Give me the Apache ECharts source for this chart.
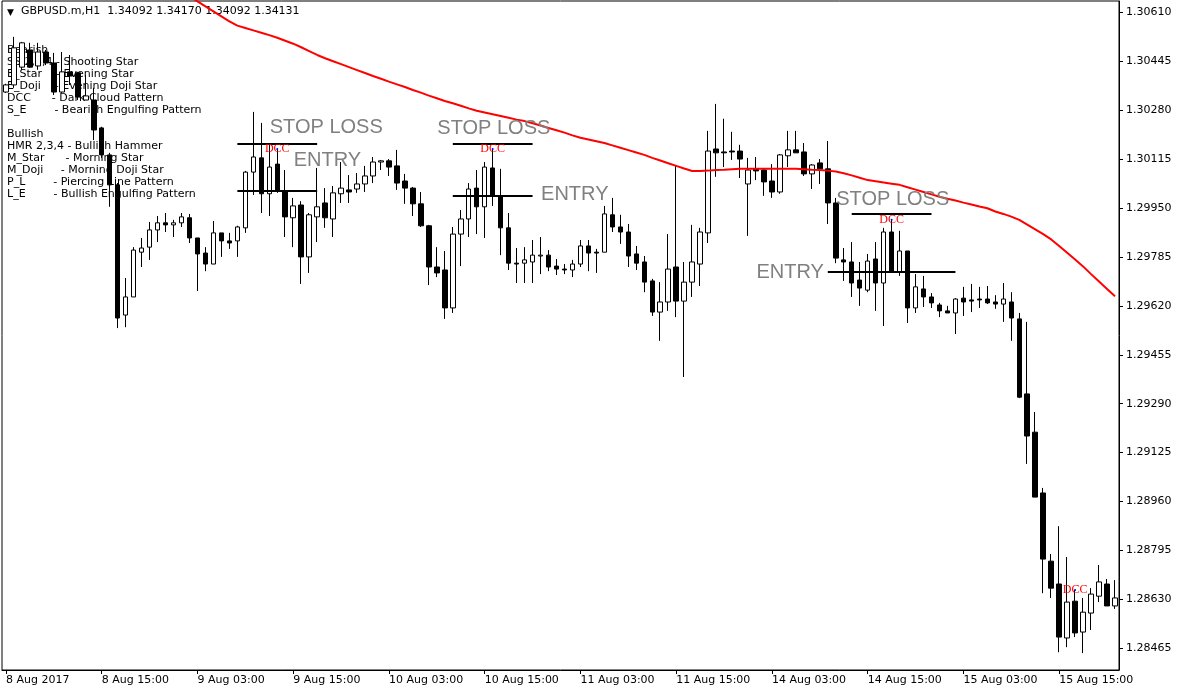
<!DOCTYPE html>
<html>
<head>
<meta charset="utf-8">
<title>GBPUSD.m,H1</title>
<script src="https://cdn.jsdelivr.net/npm/echarts@6/dist/echarts.min.js"></script>
<style>
  html, body { margin: 0; padding: 0; background: #fff; }
  #chart { width: 1180px; height: 693px; }
</style>
</head>
<body>
<div id="chart"></div>
<script>
// hourly bars, 8 Aug 03:00 .. 15 Aug 22:00
var opens = [
  1.30341, 1.30365, 1.30425, 1.30483, 1.30429, 1.30476, 1.30439, 1.30341, 1.30409, 1.30406,
  1.30314, 1.30314, 1.30220, 1.30129, 1.30028, 1.29589, 1.29650, 1.29801, 1.29818, 1.29876,
  1.29900, 1.29893, 1.29900, 1.29917, 1.29849, 1.29798, 1.29761, 1.29866, 1.29839, 1.29839,
  1.29883, 1.30071, 1.30119, 1.29998, 1.30098, 1.30007, 1.29917, 1.29960, 1.29785, 1.29920,
  1.29967, 1.29913, 1.29998, 1.30011, 1.30014, 1.30031, 1.30058, 1.30105, 1.30109, 1.30092,
  1.30041, 1.30017, 1.29964, 1.29890, 1.29751, 1.29741, 1.29613, 1.29862, 1.29913, 1.30017,
  1.29954, 1.30085, 1.29991, 1.29883, 1.29764, 1.29764, 1.29768, 1.29788, 1.29791, 1.29754,
  1.29744, 1.29741, 1.29761, 1.29822, 1.29801, 1.29801, 1.29927, 1.29886, 1.29869, 1.29795,
  1.29768, 1.29704, 1.29599, 1.29633, 1.29751, 1.29636, 1.29700, 1.29761, 1.29866, 1.30149,
  1.30139, 1.30142, 1.30142, 1.30031, 1.30082, 1.30078, 1.30041, 1.30004, 1.30126, 1.30146,
  1.30139, 1.30065, 1.30102, 1.30082, 1.29967, 1.29775, 1.29768, 1.29707, 1.29673, 1.29778,
  1.29697, 1.29869, 1.29734, 1.29805, 1.29613, 1.29677, 1.29650, 1.29623, 1.29603, 1.29596,
  1.29646, 1.29640, 1.29643, 1.29643, 1.29633, 1.29626, 1.29633, 1.29576, 1.29323, 1.29194,
  1.28989, 1.28759, 1.28682, 1.28500, 1.28624, 1.28520, 1.28584, 1.28641, 1.28682, 1.28608
];
var highs = [
  1.30369, 1.30527, 1.30510, 1.30507, 1.30507, 1.30483, 1.30473, 1.30476, 1.30466, 1.30409,
  1.30399, 1.30355, 1.30224, 1.30136, 1.30034, 1.29714, 1.29818, 1.29849, 1.29903, 1.29923,
  1.29933, 1.29910, 1.29933, 1.29930, 1.29849, 1.29818, 1.29906, 1.29866, 1.29866, 1.29890,
  1.30075, 1.30274, 1.30237, 1.30169, 1.30149, 1.30078, 1.29984, 1.29973, 1.29933, 1.30085,
  1.30017, 1.30024, 1.30105, 1.30061, 1.30068, 1.30092, 1.30122, 1.30112, 1.30115, 1.30146,
  1.30065, 1.30021, 1.30004, 1.29893, 1.29818, 1.29805, 1.29886, 1.29943, 1.30034, 1.30078,
  1.30105, 1.30149, 1.30082, 1.29933, 1.29815, 1.29818, 1.29842, 1.29852, 1.29808, 1.29778,
  1.29761, 1.29775, 1.29842, 1.29842, 1.29812, 1.29957, 1.29984, 1.29927, 1.29896, 1.29822,
  1.29788, 1.29711, 1.29700, 1.29862, 1.30092, 1.29768, 1.29893, 1.29883, 1.30210, 1.30301,
  1.30251, 1.30207, 1.30163, 1.30119, 1.30122, 1.30082, 1.30098, 1.30132, 1.30210, 1.30210,
  1.30169, 1.30098, 1.30115, 1.30176, 1.29984, 1.29815, 1.29835, 1.29768, 1.29795, 1.29835,
  1.29883, 1.29910, 1.29873, 1.29805, 1.29727, 1.29721, 1.29663, 1.29630, 1.29620, 1.29646,
  1.29684, 1.29694, 1.29684, 1.29687, 1.29656, 1.29697, 1.29666, 1.29596, 1.29566, 1.29262,
  1.29006, 1.28783, 1.28877, 1.28773, 1.28662, 1.28635, 1.28668, 1.28746, 1.28699, 1.28695
];
var lows = [
  1.30338, 1.30355, 1.30416, 1.30422, 1.30416, 1.30432, 1.30331, 1.30338, 1.30365, 1.30314,
  1.30314, 1.30179, 1.30119, 1.29954, 1.29545, 1.29548, 1.29650, 1.29751, 1.29775, 1.29835,
  1.29869, 1.29852, 1.29886, 1.29832, 1.29670, 1.29737, 1.29761, 1.29785, 1.29812, 1.29785,
  1.29866, 1.29994, 1.29933, 1.29923, 1.30001, 1.29852, 1.29818, 1.29694, 1.29731, 1.29835,
  1.29883, 1.29852, 1.29967, 1.29967, 1.30001, 1.30004, 1.30034, 1.30078, 1.30058, 1.30011,
  1.29964, 1.29923, 1.29886, 1.29690, 1.29717, 1.29576, 1.29596, 1.29754, 1.29852, 1.29862,
  1.29849, 1.29957, 1.29791, 1.29741, 1.29697, 1.29697, 1.29697, 1.29727, 1.29737, 1.29724,
  1.29727, 1.29717, 1.29751, 1.29737, 1.29731, 1.29801, 1.29869, 1.29829, 1.29751, 1.29741,
  1.29666, 1.29586, 1.29502, 1.29603, 1.29582, 1.29380, 1.29650, 1.29687, 1.29832, 1.30055,
  1.30088, 1.30112, 1.30051, 1.29856, 1.30044, 1.29991, 1.29984, 1.29998, 1.30088, 1.30136,
  1.30058, 1.30014, 1.30031, 1.29896, 1.29764, 1.29704, 1.29650, 1.29620, 1.29666, 1.29603,
  1.29552, 1.29734, 1.29721, 1.29562, 1.29596, 1.29616, 1.29613, 1.29582, 1.29596, 1.29525,
  1.29586, 1.29599, 1.29613, 1.29626, 1.29610, 1.29566, 1.29502, 1.29309, 1.29087, 1.28975,
  1.28651, 1.28635, 1.28452, 1.28469, 1.28503, 1.28449, 1.28527, 1.28621, 1.28608, 1.28598
];
var closes = [
  1.30365, 1.30490, 1.30507, 1.30425, 1.30476, 1.30439, 1.30341, 1.30409, 1.30395, 1.30324,
  1.30328, 1.30213, 1.30129, 1.30028, 1.29579, 1.29650, 1.29808, 1.29815, 1.29876, 1.29900,
  1.29893, 1.29900, 1.29920, 1.29849, 1.29795, 1.29761, 1.29866, 1.29839, 1.29832, 1.29886,
  1.30071, 1.30122, 1.29998, 1.30088, 1.30007, 1.29920, 1.29957, 1.29785, 1.29927, 1.29954,
  1.29917, 1.30001, 1.30017, 1.30004, 1.30031, 1.30058, 1.30105, 1.30109, 1.30088, 1.30034,
  1.30017, 1.29964, 1.29890, 1.29751, 1.29731, 1.29613, 1.29862, 1.29913, 1.30014, 1.29954,
  1.30088, 1.29991, 1.29883, 1.29764, 1.29761, 1.29775, 1.29791, 1.29791, 1.29751, 1.29744,
  1.29741, 1.29761, 1.29822, 1.29798, 1.29798, 1.29930, 1.29886, 1.29869, 1.29788, 1.29764,
  1.29700, 1.29599, 1.29633, 1.29744, 1.29636, 1.29700, 1.29768, 1.29869, 1.30142, 1.30136,
  1.30136, 1.30139, 1.30115, 1.30078, 1.30075, 1.30038, 1.30004, 1.30129, 1.30146, 1.30136,
  1.30065, 1.30095, 1.30082, 1.29967, 1.29781, 1.29768, 1.29697, 1.29680, 1.29771, 1.29697,
  1.29869, 1.29734, 1.29805, 1.29613, 1.29684, 1.29650, 1.29630, 1.29603, 1.29596, 1.29643,
  1.29633, 1.29636, 1.29640, 1.29630, 1.29626, 1.29643, 1.29579, 1.29312, 1.29181, 1.28975,
  1.28766, 1.28668, 1.28503, 1.28621, 1.28517, 1.28587, 1.28648, 1.28689, 1.28608, 1.28635
];
// red moving average, starts above the visible range
var maValues = [
  null, null, null, null, null, null, null, null, null, null,
  null, null, null, null, null, null, null, null, null, null,
  null, null, null, 1.30664, 1.30647, 1.30630, 1.30613, 1.30596, 1.30579, 1.30565,
  1.30557, 1.30549, 1.30541, 1.30533, 1.30524, 1.30514, 1.30504, 1.30492, 1.30479, 1.30466,
  1.30455, 1.30445, 1.30435, 1.30425, 1.30415, 1.30405, 1.30395, 1.30386, 1.30376, 1.30367,
  1.30358, 1.30348, 1.30339, 1.30329, 1.30320, 1.30311, 1.30303, 1.30295, 1.30286, 1.30278,
  1.30272, 1.30266, 1.30260, 1.30254, 1.30248, 1.30243, 1.30236, 1.30228, 1.30220, 1.30212,
  1.30204, 1.30195, 1.30187, 1.30181, 1.30175, 1.30169, 1.30161, 1.30153, 1.30145, 1.30137,
  1.30129, 1.30119, 1.30110, 1.30101, 1.30092, 1.30083, 1.30075, 1.30075, 1.30076, 1.30078,
  1.30079, 1.30081, 1.30082, 1.30082, 1.30082, 1.30082, 1.30082, 1.30082, 1.30082, 1.30082,
  1.30081, 1.30079, 1.30078, 1.30076, 1.30073, 1.30067, 1.30060, 1.30052, 1.30044, 1.30040,
  1.30036, 1.30032, 1.30028, 1.30020, 1.30012, 1.30004, 1.29996, 1.29988, 1.29981, 1.29975,
  1.29968, 1.29962, 1.29955, 1.29949, 1.29938, 1.29930, 1.29921, 1.29910, 1.29894, 1.29878,
  1.29862, 1.29844, 1.29822, 1.29799, 1.29776, 1.29753, 1.29727, 1.29702, 1.29677, 1.29652
];

var sessionDays = [8, 9, 10, 11, 14, 15];
var yTicks = [1.28465, 1.28630, 1.28795, 1.28960, 1.29125, 1.29290, 1.29455,
              1.29620, 1.29785, 1.29950, 1.30115, 1.30280, 1.30445, 1.30610];
var yMin = 1.28392;
var yMax = 1.30648;

// bars where the indicator printed "DCC"
var dccBars = [34, 61, 111, 134];
// drawn levels: [from bar, to bar, price]
var levelLines = [
  [29, 39, 1.30166], [29, 39, 1.30009],
  [56, 66, 1.30166], [56, 66, 1.29991],
  [106, 116, 1.29931], [103, 119, 1.29735]
];
// drawn texts: [bar, price, text]
var levelTexts = [
  [33, 1.30220, 'STOP LOSS'], [36, 1.30109, 'ENTRY'],
  [54, 1.30217, 'STOP LOSS'], [67, 1.29994, 'ENTRY'],
  [104, 1.29977, 'STOP LOSS'], [94, 1.29734, 'ENTRY']
];
var legendLines = [
  'Bearish',
  'SS 2,3,4 - Shooting Star',
  'E_Star    - Evening Star',
  'E_Doji    - Evening Doji Star',
  'DCC      - Dark Cloud Pattern',
  'S_E        - Bearish Engulfing Pattern',
  '',
  'Bullish',
  'HMR 2,3,4 - Bullish Hammer',
  'M_Star      - Morning Star',
  'M_Doji     - Morning Doji Star',
  'P_L        - Piercing Line Pattern',
  'L_E        - Bullish Engulfing Pattern'
];

var categories = [];
sessionDays.forEach(function (d, k) {
  for (var h = (k === 0 ? 3 : 0); h < 24 && categories.length < opens.length; h++) {
    categories.push(d + ' Aug ' + (h < 10 ? '0' + h : h) + ':00');
  }
});

var candleData = opens.map(function (o, i) {
  return [o, closes[i], lows[i], highs[i]];
});

var markPoints = [];
dccBars.forEach(function (b) {
  markPoints.push({
    coord: [b, highs[b]],
    symbol: 'circle',
    symbolSize: 2,
    itemStyle: { color: '#0000ff' },
    label: {
      show: true, position: 'inside', formatter: 'DCC',
      color: '#ff0000', fontFamily: 'Liberation Serif', fontSize: 12
    }
  });
});
levelTexts.forEach(function (t) {
  markPoints.push({
    coord: [t[0], t[1]],
    symbol: 'circle',
    symbolSize: 1,
    itemStyle: { color: 'rgba(0,0,0,0)' },
    label: {
      show: true, position: 'right', distance: 0, formatter: t[2],
      color: '#808080', fontFamily: 'Liberation Sans', fontSize: 20
    }
  });
});

var chart = echarts.init(document.getElementById('chart'));

var option = {
  animation: false,
  backgroundColor: '#ffffff',
  textStyle: { fontFamily: 'DejaVu Sans' },
  grid: {
    left: 2, right: 61, top: 1, bottom: 23,
    show: true, borderColor: '#000', borderWidth: 1
  },
  xAxis: {
    type: 'category',
    data: categories,
    boundaryGap: true,
    axisLine: { show: true, lineStyle: { color: '#000', width: 1 } },
    axisTick: { show: true, interval: 11, alignWithLabel: true, length: 4, lineStyle: { color: '#000' } },
    axisLabel: {
      interval: 11, align: 'left', margin: 5, color: '#000', fontSize: 11,
      fontFamily: 'DejaVu Sans',
      formatter: function (v, i) { return i === 0 ? '8 Aug 2017' : v; }
    },
    splitLine: { show: false }
  },
  yAxis: {
    type: 'value',
    position: 'right',
    min: yMin,
    max: yMax,
    axisLine: { show: true, lineStyle: { color: '#000', width: 1 } },
    axisTick: { show: true, length: 4, customValues: yTicks, lineStyle: { color: '#000' } },
    axisLabel: {
      customValues: yTicks, margin: 7, color: '#000', fontSize: 11,
      fontFamily: 'DejaVu Sans',
      formatter: function (v) { return v.toFixed(5); }
    },
    splitLine: { show: false }
  },
  graphic: [
    {
      type: 'text', left: 7, top: 8, z: 0,
      style: { text: '\u25BC', fill: '#000', font: '9px "DejaVu Sans"' }
    },
    {
      type: 'text', left: 21, top: 6, z: 0,
      style: { text: 'GBPUSD.m,H1  1.34092 1.34170 1.34092 1.34131', fill: '#000', font: '11px "DejaVu Sans"' }
    },
    {
      type: 'text', left: 7, top: 44, z: 0,
      style: { text: legendLines.join('\n'), fill: '#000', font: '11px "DejaVu Sans"', lineHeight: 12 }
    }
  ],
  series: [
    {
      type: 'candlestick',
      data: candleData,
      barWidth: 5,
      itemStyle: {
        color: '#ffffff', color0: '#000000',
        borderColor: '#000000', borderColor0: '#000000', borderColorDoji: '#000000',
        borderWidth: 1
      },
      markLine: {
        silent: true,
        symbol: ['none', 'none'],
        label: { show: false },
        lineStyle: { color: '#000', width: 2, type: 'solid' },
        data: levelLines.map(function (l) {
          return [{ coord: [l[0], l[2]] }, { coord: [l[1], l[2]] }];
        })
      },
      markPoint: {
        silent: true,
        data: markPoints
      }
    },
    {
      type: 'line',
      data: maValues,
      symbol: 'none',
      silent: true,
      z: 3,
      lineStyle: { color: '#ff0000', width: 2 },
      itemStyle: { color: '#ff0000' }
    }
  ]
};

chart.setOption(option);
</script>
</body>
</html>
